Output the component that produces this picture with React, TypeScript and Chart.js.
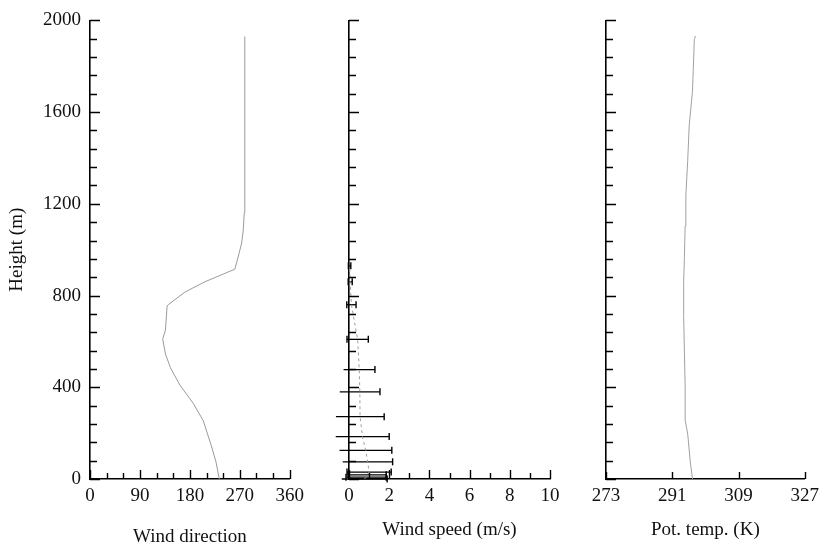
import React, { useEffect, useRef } from "react";
import { Chart, registerables } from "chart.js";

Chart.register(...registerables);

// ---- tick / label values ----
const heightLabels = [0, 400, 800, 1200, 1600, 2000];
const heightStep = 80;
const dirLabels = [0, 90, 180, 270, 360];
const dirStep = 30;
const speedLabels = [0, 2, 4, 6, 8, 10];
const speedStep = 1;
const thetaLabels = [273, 291, 309, 327];
const thetaStep = 18;

// ---- wind direction profile ----
const dirHeights = [0, 75, 150, 255, 330, 410, 485, 545, 610, 650, 755, 762, 815, 860, 915, 950, 1025, 1080, 1160, 1460, 1930];
const dirValues = [233, 227, 218, 204, 186, 162, 145, 136, 131, 136, 139, 142, 171, 207, 261, 265, 273, 276, 278, 279, 279];

// ---- wind speed profile (mean and standard deviation) ----
const speedHeights = [0, 8, 18, 30, 75, 125, 185, 272, 380, 477, 609, 760, 860, 930];
const speedMean = [0.77, 0.85, 0.9, 1.0, 0.93, 0.83, 0.67, 0.55, 0.54, 0.51, 0.43, 0.12, 0.06, 0.03];
const speedStd = [1.13, 1.0, 0.95, 1.1, 1.24, 1.3, 1.33, 1.2, 1.0, 0.78, 0.53, 0.23, 0.1, 0.06];

// ---- potential temperature profile ----
const thetaHeights = [0, 75, 196, 257, 408, 558, 709, 860, 966, 1102, 1238, 1389, 1540, 1691, 1917, 1932];
const thetaValues = [296.5, 295.9, 295.2, 294.5, 294.5, 294.3, 294.1, 294.1, 294.3, 294.5, 294.7, 295.2, 295.6, 296.5, 297.0, 297.3];

const FONT = "'Liberation Serif', 'Times New Roman', Times, serif";
const TEXT = "#111";

function makeInsideTicks(xMajor: number[], yMajor: number[], xMajorLen: number, xMinorLen: number) {
  return {
    id: "insideTicks",
    afterDraw(chart: any) {
      const { ctx, chartArea, scales } = chart;
      const xs = scales.x;
      const ys = scales.y;
      ctx.save();
      ctx.strokeStyle = "#000";
      ctx.lineWidth = 1.4;
      ctx.beginPath();
      for (const t of xs.ticks) {
        const px = Math.round(xs.getPixelForValue(t.value)) + 0.5;
        const len = xMajor.includes(t.value) ? xMajorLen : xMinorLen;
        ctx.moveTo(px, chartArea.bottom);
        ctx.lineTo(px, chartArea.bottom - len);
      }
      for (const t of ys.ticks) {
        const py = Math.round(ys.getPixelForValue(t.value)) + 0.5;
        const len = yMajor.includes(t.value) ? 10 : 7;
        ctx.moveTo(chartArea.left, py);
        ctx.lineTo(chartArea.left + len, py);
      }
      ctx.stroke();
      ctx.restore();
    },
  };
}

type PanelSpec = {
  left: number;
  width: number;
  padRight: number;
  yWidth: number;
  xMin: number;
  xMax: number;
  xStep: number;
  xLabels: number[];
  xTitle: string;
  xTitleBottom: number;
  yTitle?: string;
  showYLabels: boolean;
  datasets: any[];
  xMajorLen: number;
  xMinorLen: number;
};

function Panel({ spec }: { spec: PanelSpec }) {
  const ref = useRef<HTMLCanvasElement | null>(null);
  useEffect(() => {
    if (!ref.current) return;
    const s = spec;
    const chart = new Chart(ref.current, {
      type: "scatter",
      data: { datasets: s.datasets },
      plugins: [makeInsideTicks(s.xLabels, heightLabels, s.xMajorLen, s.xMinorLen)],
      options: {
        animation: false,
        responsive: false,
        maintainAspectRatio: false,
        layout: { padding: { top: 15, right: s.padRight, left: 0, bottom: 0 } },
        plugins: { legend: { display: false }, tooltip: { enabled: false } },
        scales: {
          x: {
            type: "linear",
            position: "bottom",
            min: s.xMin,
            max: s.xMax,
            grid: { display: false, drawTicks: false },
            border: { display: true, color: "#000", width: 1.6 },
            ticks: {
              stepSize: s.xStep,
              autoSkip: false,
              maxRotation: 0,
              padding: 6,
              color: TEXT,
              font: { family: FONT, size: 19 },
              callback: (v: any) => (s.xLabels.includes(Number(v)) ? String(v) : ""),
            },
            title: {
              display: true,
              text: s.xTitle,
              color: TEXT,
              font: { family: FONT, size: 19 },
              padding: { top: 0, bottom: s.xTitleBottom },
            },
            afterFit: (sc: any) => {
              sc.height = 70;
            },
          },
          y: {
            type: "linear",
            position: "left",
            min: 0,
            max: 2000,
            grid: { display: false, drawTicks: false },
            border: { display: true, color: "#000", width: 1.6 },
            ticks: {
              stepSize: heightStep,
              autoSkip: false,
              padding: 9,
              color: TEXT,
              font: { family: FONT, size: 19 },
              callback: (v: any) =>
                s.showYLabels && heightLabels.includes(Number(v)) ? String(v) : "",
            },
            title: {
              display: !!s.yTitle,
              text: s.yTitle || "",
              color: TEXT,
              font: { family: FONT, size: 19 },
              padding: { top: 6, bottom: 0 },
            },
            afterFit: (sc: any) => {
              sc.width = s.yWidth;
            },
          },
        },
      } as any,
    });
    return () => chart.destroy();
  }, [spec]);
  return (
    <canvas
      ref={ref}
      width={spec.width}
      height={549}
      style={{ position: "absolute", left: spec.left, top: 0, width: spec.width, height: 549 }}
    />
  );
}

const dirSpec: PanelSpec = {
  left: 0,
  width: 310,
  padRight: 18,
  yWidth: 90,
  xMin: 0,
  xMax: 360,
  xStep: dirStep,
  xLabels: dirLabels,
  xTitle: "Wind direction",
  xTitleBottom: 1,
  yTitle: "Height (m)",
  showYLabels: true,
  xMajorLen: 9,
  xMinorLen: 6,
  datasets: [
    {
      data: dirHeights.map((h, i) => ({ x: dirValues[i], y: h })),
      showLine: true,
      borderColor: "#9a9a9a",
      borderWidth: 1,
      pointRadius: 0,
      tension: 0,
    },
  ],
};

const speedErrorBars = speedHeights.map((h, i) => ({
  data: [
    { x: speedMean[i] - speedStd[i], y: h },
    { x: speedMean[i] + speedStd[i], y: h },
  ],
  showLine: true,
  borderColor: "#000",
  borderWidth: 1.3,
  pointStyle: "line",
  pointRotation: 90,
  pointRadius: 3.5,
  pointBorderWidth: 1.4,
  pointBorderColor: "#000",
  clip: false,
}));

const speedSpec: PanelSpec = {
  left: 320,
  width: 250,
  padRight: 20,
  yWidth: 29,
  xMin: 0,
  xMax: 10,
  xStep: speedStep,
  xLabels: speedLabels,
  xTitle: "Wind speed (m/s)",
  xTitleBottom: 8,
  showYLabels: false,
  xMajorLen: 9,
  xMinorLen: 6,
  datasets: [
    {
      data: speedHeights.map((h, i) => ({ x: speedMean[i], y: h })),
      showLine: true,
      borderColor: "#a0a0a0",
      borderWidth: 1,
      borderDash: [3, 3],
      pointRadius: 0,
      tension: 0,
      clip: false,
    },
    ...speedErrorBars,
  ],
};

const thetaSpec: PanelSpec = {
  left: 580,
  width: 245,
  padRight: 16,
  yWidth: 26,
  xMin: 273,
  xMax: 327,
  xStep: thetaStep,
  xLabels: thetaLabels,
  xTitle: "Pot. temp. (K)",
  xTitleBottom: 8,
  showYLabels: false,
  xMajorLen: 7,
  xMinorLen: 7,
  datasets: [
    {
      data: thetaHeights.map((h, i) => ({ x: thetaValues[i], y: h })),
      showLine: true,
      borderColor: "#a0a0a0",
      borderWidth: 1,
      pointRadius: 0,
      tension: 0,
    },
  ],
};

export default function App() {
  return (
    <div
      style={{
        position: "absolute",
        left: 0,
        top: 0,
        width: 825,
        height: 549,
        background: "#fff",
        overflow: "hidden",
      }}
    >
      <Panel spec={dirSpec} />
      <Panel spec={speedSpec} />
      <Panel spec={thetaSpec} />
    </div>
  );
}
